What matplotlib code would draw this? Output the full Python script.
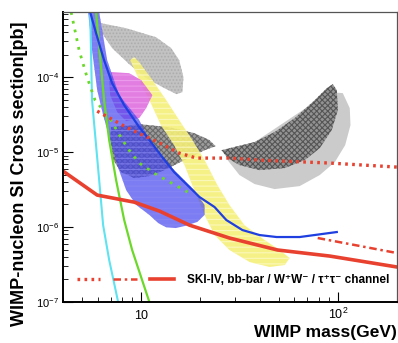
import matplotlib
matplotlib.use("Agg")
import matplotlib.pyplot as plt
from matplotlib.patches import Polygon
from matplotlib.legend_handler import HandlerTuple

plt.rcParams['font.family'] = ['Liberation Sans', 'DejaVu Sans']
plt.rcParams['mathtext.fontset'] = 'custom'
plt.rcParams['mathtext.rm'] = 'Liberation Sans:bold'
plt.rcParams['hatch.linewidth'] = 0.8

# ---- regions (mass GeV, sigma pb) ----
gray_top_m = [6.25, 8.38, 11.9, 14.2, 15.6, 16.4, 16.2, 15.1, 13.1, 10.6, 8.68, 7.11, 6.32]
gray_top_s = [5.25e-4, 4.5e-4, 3.41e-4, 2.44e-4, 1.69e-4, 1e-4, 6.31e-5, 5.93e-5, 7.14e-5, 9.7e-5, 1.49e-4, 2.44e-4, 3.86e-4]

leaf_m = [7.03, 9.77, 13.9, 18.6, 22.2, 23.9, 21.0, 16.6, 13.1, 11.0, 9.21, 7.91, 7.2, 6.95]
leaf_s = [2.15e-5, 2.36e-5, 2.15e-5, 1.79e-5, 1.45e-5, 1.2e-5, 1.06e-5, 7.82e-6, 5.75e-6, 4.79e-6, 4.5e-6, 5.41e-6, 7.82e-6, 1.45e-5]

banana_m = [25.6, 29.8, 37.7, 47.7, 60.4, 76.3, 87.9, 94.3, 98.8, 100, 93.1, 80.9, 67.9, 53.7, 40.0, 31.6, 27.5]
banana_s = [1.06e-5, 1.17e-5, 1.36e-5, 1.85e-5, 2.84e-5, 4.94e-5, 7.14e-5, 8.07e-5, 6.71e-5, 3.63e-5, 1.97e-5, 1.13e-5, 7.82e-6, 6.12e-6, 5.75e-6, 6.71e-6, 8.32e-6]

shadow_m = [91.0, 106, 115, 116, 109, 96.6, 80.9, 64.0, 47.7, 37.7, 31.6, 27.5]
shadow_s = [6.31e-5, 6.12e-5, 3.86e-5, 2.29e-5, 1.24e-5, 7.36e-6, 4.94e-6, 3.52e-6, 3.21e-6, 3.75e-6, 4.94e-6, 7.82e-6]

yellow_m = [8.78, 9.77, 11.0, 12.6, 14.7, 16.6, 18.6, 21.0, 23.6, 28.1, 35.6, 45.0, 53.7, 56.9,
            50.6, 42.4, 33.5, 28.1, 24.4, 21.0, 18.2, 15.6, 13.4, 11.4, 9.77, 9.21]
yellow_s = [1.69e-4, 9.12e-5, 4.94e-5, 2.29e-5, 1.24e-5, 6.71e-6, 3.11e-6, 1.45e-6, 7.82e-7, 4.94e-7, 3.41e-7, 2.93e-7, 3.11e-7, 3.86e-7,
            4.94e-7, 6.71e-7, 1.06e-6, 1.97e-6, 3.63e-6, 7.82e-6, 1.45e-5, 2.67e-5, 4.94e-5, 9.12e-5, 1.58e-4, 1.85e-4]

magenta_m = [7.03, 8.68, 10.0, 11.4, 10.6, 9.77, 8.38, 7.55, 6.95, 6.87]
magenta_s = [1.17e-4, 1.13e-4, 9.12e-5, 5.75e-5, 3.86e-5, 2.84e-5, 2.59e-5, 3.41e-5, 5.75e-5, 9.12e-5]

blue_m = [5.37, 5.62, 5.97, 6.40, 6.95, 7.55, 8.38, 9.43, 11.0, 12.2, 13.4, 15.0, 16.6, 19.3, 21.0,
          21.0, 18.6, 15.6, 13.1, 11.0, 9.77, 7.72, 6.71, 6.11]
blue_s = [7.4e-4, 2.29e-4, 6.71e-5, 3.11e-5, 1.45e-5, 6.71e-6, 3.11e-6, 1.97e-6, 1.45e-6, 1.13e-6, 9.9e-7, 9.7e-7, 1.03e-6, 1.17e-6, 1.45e-6,
          1.97e-6, 3.11e-6, 4.94e-6, 7.82e-6, 1.45e-5, 2.67e-5, 5.75e-5, 1.69e-4, 7.4e-4]

# ---- curves ----
cyan_m = [5.50, 5.62, 6.11, 6.40, 6.87, 7.63]
cyan_s = [7.4e-4, 4.94e-5, 4.23e-6, 1.06e-6, 3.63e-7, 1e-7]

green_m = [5.89, 6.47, 6.87, 7.45, 8.19, 8.99, 11.0]
green_s = [7.4e-4, 4.94e-5, 1.45e-5, 4.23e-6, 1.24e-6, 4.94e-7, 1e-7]

greendot_m = [4.40, 4.60, 4.83, 5.30, 5.82, 6.40, 7.11, 7.91, 8.68, 9.77, 11.6, 13.4, 17.2]
greendot_s = [7.36e-4, 4.23e-4, 2.29e-4, 1e-4, 4.94e-5, 3.63e-5, 2.51e-5, 1.54e-5, 1.06e-5, 7.14e-6, 5.25e-6, 4.23e-6, 2.93e-6]

blueline_m = [5.50, 5.89, 6.47, 7.11, 8.19, 9.77, 11.0, 12.8, 14.7, 19.8, 23.6, 27.1, 32.7, 40.0, 48.8, 64.0, 98.8]
blueline_s = [7.36e-4, 3.86e-4, 1.69e-4, 8.32e-5, 4.23e-5, 2.15e-5, 1.45e-5, 8.58e-6, 5.41e-6, 2.51e-6, 1.85e-6, 1.24e-6, 9.12e-7, 7.82e-7, 7.36e-7, 7.36e-7, 8.58e-7]

sk_bb_m = [5.97, 8.38, 12.4, 15.6, 19.1, 28.1, 40.0, 91.0, 200]
sk_bb_s = [3.52e-5, 2.15e-5, 1.32e-5, 9.7e-6, 8.32e-6, 8.32e-6, 7.82e-6, 7.14e-6, 6.31e-6]

sk_ww_m = [79.0, 200]
sk_ww_s = [7.14e-7, 4.5e-7]

sk_tt_m = [4.0, 5.97, 9.21, 12.4, 17.6, 28.1, 49.4, 91.0, 200]
sk_tt_s = [5.58e-6, 2.67e-6, 2.15e-6, 1.63e-6, 1.06e-6, 7.14e-7, 4.94e-7, 4.1e-7, 2.93e-7]

xticks = [10, 100]
xlabels = [r'$\mathregular{10}$', r'$\mathregular{10^{2}}$']
yticks = [1e-7, 1e-6, 1e-5, 1e-4]
ylabels = [r'$\mathregular{10^{-7}}$', r'$\mathregular{10^{-6}}$', r'$\mathregular{10^{-5}}$', r'$\mathregular{10^{-4}}$']

red = '#e8412f'

fig = plt.figure(figsize=(3.98, 3.43), dpi=100)
ax = fig.add_axes([63/398, 1-302/343, 334/398, 290/343])
ax.set_xscale('log')
ax.set_yscale('log')
ax.set_xlim(4, 200)
ax.set_ylim(1e-7, 7.4e-4)


def region(m, s, fc, hatch=None, hc='none', alpha=1.0):
    p = Polygon(list(zip(m, s)), closed=True, facecolor=fc, edgecolor=hc,
                hatch=hatch, lw=0, alpha=alpha)
    ax.add_patch(p)


region(gray_top_m, gray_top_s, '#c2c2c2', '.....', '#acacac')
region(leaf_m, leaf_s, '#9c9c9c', 'xxxxxx', '#6a6a6a')
region(shadow_m, shadow_s, '#cbcbcb')
region(banana_m, banana_s, '#939393', 'xxxxxx', '#555555')
region(yellow_m, yellow_s, '#f6f07a', '---', '#fbf8c0', alpha=0.9)
region(magenta_m, magenta_s, '#dd66dd', '---', '#eea0ee', alpha=0.85)
region(blue_m, blue_s, '#4646ee', '---', '#8888f4', alpha=0.7)

ax.plot(cyan_m, cyan_s, color='#5fe3f0', lw=1.5)
ax.plot(green_m, green_s, color='#6cd92a', lw=1.6)
ax.plot(greendot_m, greendot_s, color='#6cd92a', lw=2.0, ls=(0, (1, 2.2)))
ax.plot(blueline_m, blueline_s, color='#1f3fe0', lw=1.6)
l1, = ax.plot(sk_bb_m, sk_bb_s, color=red, lw=2.4, ls=(0, (0.8, 1.3)))
l2, = ax.plot(sk_ww_m, sk_ww_s, color=red, lw=1.8, ls=(0, (3, 1.5, 1, 1.5)))
l3, = ax.plot(sk_tt_m, sk_tt_s, color=red, lw=2.6)

leg = ax.legend([(l1, l2, l3)], ['SKI-IV, bb-bar / W\u207aW\u207b / \u03c4\u207a\u03c4\u207b channel'],
                handler_map={tuple: HandlerTuple(ndivide=None, pad=1.1)},
                handlelength=8.2, handletextpad=1.1, frameon=False,
                loc='center left', bbox_to_anchor=(0.02, 0.076), borderaxespad=0.2,
                prop={'size': 8.5, 'weight': 'bold'})

ax.set_xticks(xticks, xlabels, va='baseline', fontsize=9)
ax.set_yticks(yticks, ylabels, fontsize=8)
ax.tick_params(which='both', direction='in', top=False, right=False)
ax.tick_params(axis='x', which='major', length=7, pad=12.5)
ax.tick_params(axis='y', which='major', length=7, pad=3)
ax.tick_params(which='minor', length=3.5)
ax.xaxis.set_minor_formatter(matplotlib.ticker.NullFormatter())
ax.yaxis.set_minor_formatter(matplotlib.ticker.NullFormatter())
for sp in ['left', 'bottom']:
    ax.spines[sp].set_linewidth(1.4)
for sp in ['top', 'right']:
    ax.spines[sp].set_linewidth(0.9)
    ax.spines[sp].set_color('#555555')

fig.text(20/398, 1-174/343, 'WIMP-nucleon SI Cross section[pb]', rotation=90,
         ha='center', va='center', fontsize=13, weight='bold')
fig.text(397/398, 1-332/343, 'WIMP mass(GeV)', ha='right', va='center',
         fontsize=12.5, weight='bold')

fig.savefig('out.png', dpi=100)
